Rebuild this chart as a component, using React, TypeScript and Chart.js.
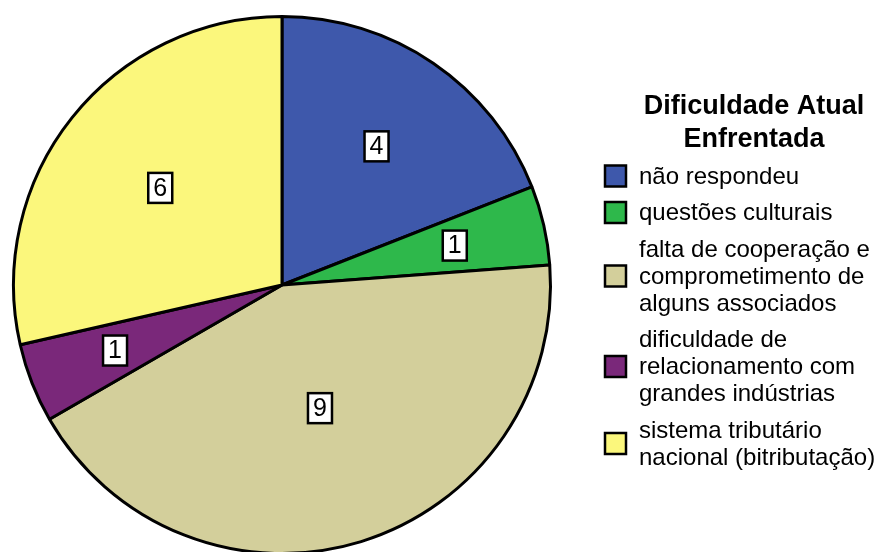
import React, { useEffect, useRef } from 'react';
import { Chart, registerables } from 'chart.js';

Chart.register(...registerables);

// Response categories (legend lines), counts and slice colours
const categoryLines: string[][] = [
  ['não respondeu'],
  ['questões culturais'],
  ['falta de cooperação e', 'comprometimento de', 'alguns associados'],
  ['dificuldade de', 'relacionamento com', 'grandes indústrias'],
  ['sistema tributário', 'nacional (bitributação)'],
];
const counts = [4, 1, 9, 1, 6];
const sliceColors = ['#3e58ab', '#2eb84b', '#d3cf9b', '#7a287a', '#fbf77c'];
const legendTitle = ['Dificuldade Atual', 'Enfrentada'];

// distance of each value box from the centre, as a share of the radius
const labelRadiusShare = [0.625, 0.66, 0.48, 0.668, 0.58];

const FONT = '"Liberation Sans", Arial, Helvetica, sans-serif';

const sliceLabelPlugin = {
  id: 'sliceLabels',
  afterDatasetsDraw(chart: any) {
    const ctx = chart.ctx;
    const meta = chart.getDatasetMeta(0);
    const values = chart.data.datasets[0].data as number[];
    ctx.save();
    meta.data.forEach((arc: any, i: number) => {
      const { x, y, startAngle, endAngle, outerRadius } = arc.getProps(
        ['x', 'y', 'startAngle', 'endAngle', 'outerRadius'],
        true
      );
      const mid = (startAngle + endAngle) / 2;
      const r = outerRadius * labelRadiusShare[i];
      const cx = x + Math.cos(mid) * r;
      const cy = y + Math.sin(mid) * r;
      const text = String(values[i]);
      ctx.font = `25px ${FONT}`;
      const w = 24;
      const h = 30;
      ctx.fillStyle = '#ffffff';
      ctx.fillRect(cx - w / 2, cy - h / 2, w, h);
      ctx.lineWidth = 2.5;
      ctx.strokeStyle = '#000000';
      ctx.strokeRect(cx - w / 2, cy - h / 2, w, h);
      ctx.fillStyle = '#000000';
      ctx.textAlign = 'center';
      ctx.textBaseline = 'middle';
      ctx.fillText(text, cx, cy + 1);
    });
    ctx.restore();
  },
};

const sideLegendPlugin = {
  id: 'sideLegend',
  afterDraw(chart: any) {
    const ctx = chart.ctx;
    ctx.save();
    // title
    ctx.fillStyle = '#000000';
    ctx.textAlign = 'center';
    ctx.textBaseline = 'middle';
    ctx.font = `bold 27px ${FONT}`;
    const titleX = 754;
    legendTitle.forEach((line, i) => {
      ctx.fillText(line, titleX, 107 + i * 33);
    });

    // entries
    const lineH = 27;
    const gap = 9.5;
    const boxX = 605;
    const boxSize = 21;
    const textX = 639;
    let y = 176;
    ctx.font = `24px ${FONT}`;
    ctx.textAlign = 'left';
    categoryLines.forEach((lines, i) => {
      const first = y;
      lines.forEach((line, j) => {
        ctx.fillStyle = '#000000';
        ctx.fillText(line, textX, first + j * lineH + 1);
      });
      const centre = first + ((lines.length - 1) * lineH) / 2;
      ctx.fillStyle = sliceColors[i];
      ctx.fillRect(boxX, centre - boxSize / 2, boxSize, boxSize);
      ctx.lineWidth = 2.5;
      ctx.strokeStyle = '#000000';
      ctx.strokeRect(boxX, centre - boxSize / 2, boxSize, boxSize);
      y = first + (lines.length - 1) * lineH + lineH + gap;
    });
    ctx.restore();
  },
};

export default function App() {
  const canvasRef = useRef<HTMLCanvasElement | null>(null);

  useEffect(() => {
    if (!canvasRef.current) return;
    const chart = new Chart(canvasRef.current, {
      type: 'pie',
      data: {
        labels: categoryLines.map((l) => l.join(' ')),
        datasets: [
          {
            data: counts,
            backgroundColor: sliceColors,
            borderColor: '#000000',
            borderWidth: 3,
            hoverOffset: 0,
            offset: 0,
          },
        ],
      },
      options: {
        responsive: false,
        animation: false,
        devicePixelRatio: 1,
        layout: {
          padding: { left: 12, top: 15, right: 323, bottom: 45 },
        },
        plugins: {
          legend: { display: false },
          tooltip: { enabled: false },
        },
      },
      plugins: [sliceLabelPlugin, sideLegendPlugin],
    });
    return () => chart.destroy();
  }, []);

  return (
    <div
      style={{
        position: 'absolute',
        left: 0,
        top: 0,
        width: 875,
        height: 552,
        overflow: 'hidden',
        background: '#ffffff',
      }}
    >
      <canvas ref={canvasRef} width={875} height={600} style={{ display: 'block' }} />
    </div>
  );
}
